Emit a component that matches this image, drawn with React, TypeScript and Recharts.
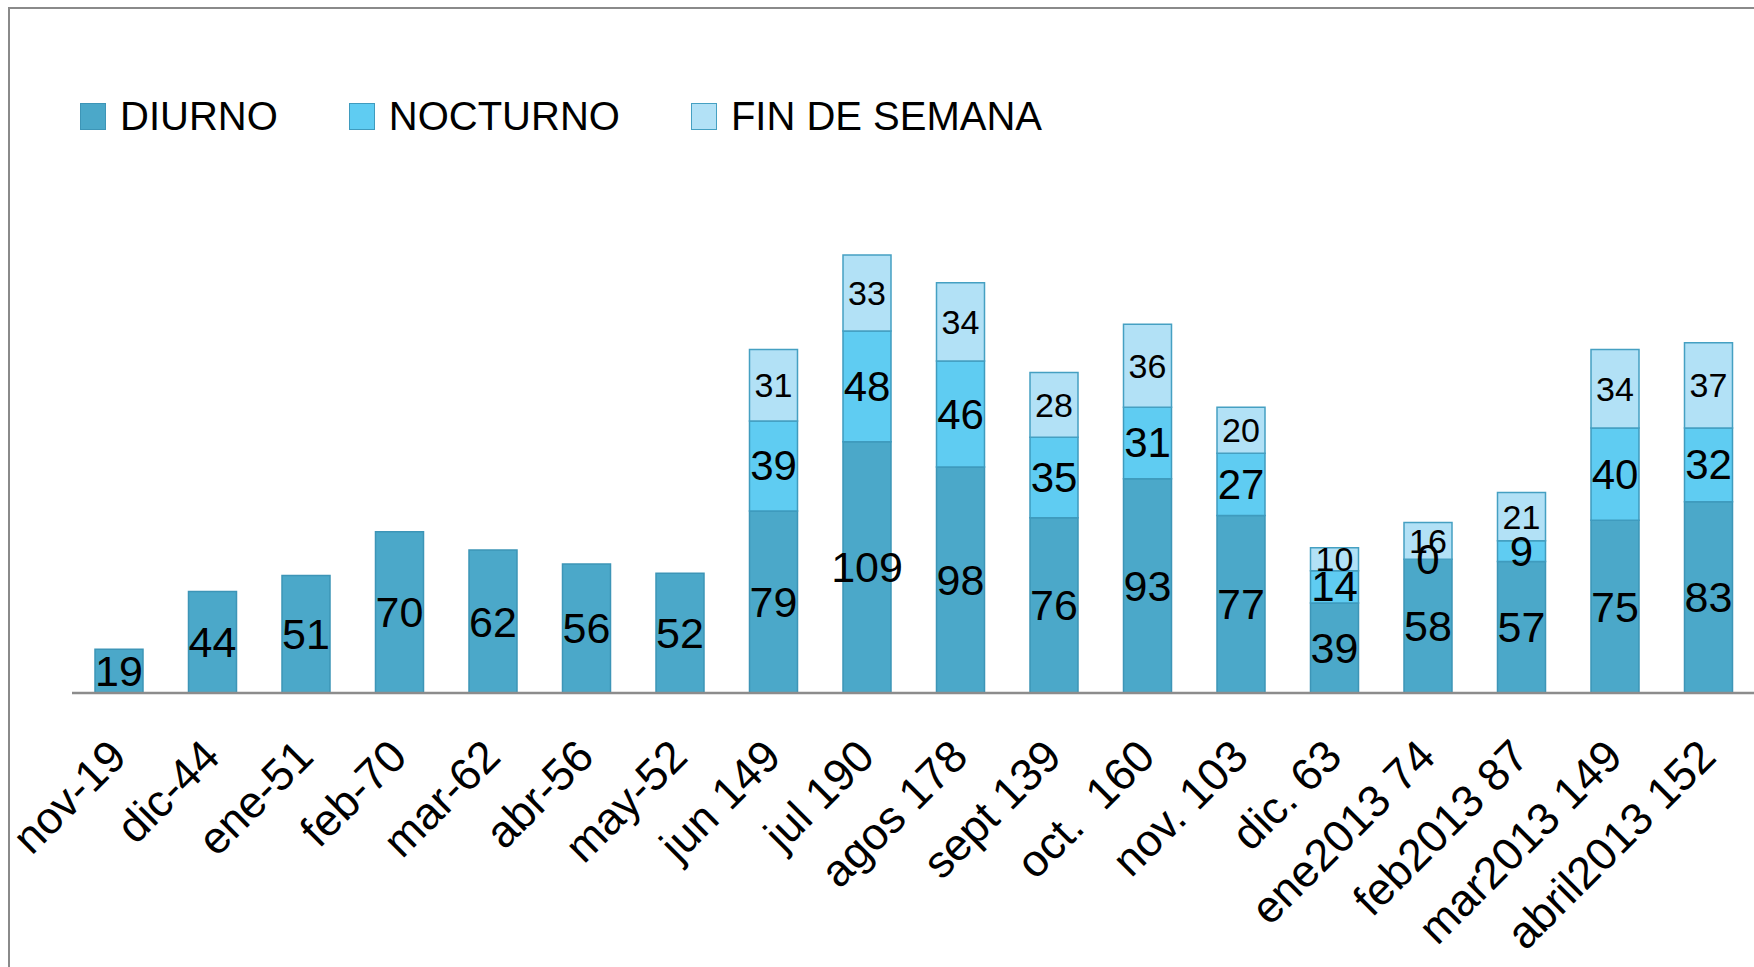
import React from "react";
import { BarChart, Bar, XAxis, YAxis, LabelList, Legend } from "recharts";

const categories = [
  "nov-19", "dic-44", "ene-51", "feb-70", "mar-62", "abr-56", "may-52",
  "jun 149", "jul 190", "agos 178", "sept 139", "oct.\u00a0\u00a0160", "nov. 103",
  "dic. 63", "ene2013 74", "feb2013 87", "mar2013 149", "abril2013 152",
];
const diurno = [19, 44, 51, 70, 62, 56, 52, 79, 109, 98, 76, 93, 77, 39, 58, 57, 75, 83];
const nocturno = [null, null, null, null, null, null, null, 39, 48, 46, 35, 31, 27, 14, 0, 9, 40, 32];
const finDeSemana = [null, null, null, null, null, null, null, 31, 33, 34, 28, 36, 20, 10, 16, 21, 34, 37];

const seriesNames = ["DIURNO", "NOCTURNO", "FIN DE SEMANA"];
const seriesFills = ["#4BA8C9", "#5FCCF2", "#B2E1F6"];
const seriesStrokes = ["#3D95B7", "#3F9BBE", "#45A0C2"];

const data = categories.map((c, i) => ({
  name: c,
  diurno: diurno[i],
  nocturno: nocturno[i],
  fin: finDeSemana[i],
}));

const FONT = "'Liberation Sans', Arial, sans-serif";

const Tick = (props: any) => {
  const { x, y, payload } = props;
  return (
    <g transform={`translate(${x + 10},${y + 66})`}>
      <text
        x={0}
        y={0}
        textAnchor="end"
        transform="rotate(-45)"
        fontSize={45}
        fontFamily={FONT}
        fill="#000"
      >
        {payload.value}
      </text>
    </g>
  );
};

const LegendContent = (props: any) => {
  const payload = [...(props.payload || [])].sort(
    (a: any, b: any) => seriesNames.indexOf(a.value) - seriesNames.indexOf(b.value)
  );
  return (
    <div style={{ display: "flex", alignItems: "center", height: 40 }}>
      {payload.map((p: any, i: number) => (
        <div key={i} style={{ display: "flex", alignItems: "center", marginRight: 71 }}>
          <div
            style={{
              width: 24,
              height: 25,
              background: seriesFills[seriesNames.indexOf(p.value)],
              border: `1.5px solid ${seriesStrokes[seriesNames.indexOf(p.value)]}`,
              marginRight: 14,
            }}
          />
          <span style={{ fontFamily: FONT, fontSize: 40, lineHeight: "40px", color: "#000", whiteSpace: "pre" }}>
            {p.value}
          </span>
        </div>
      ))}
    </div>
  );
};

const makeLabel = (fontSize: number) => (props: any) => {
  const { x, y, width, height, value } = props;
  if (value === null || value === undefined) return null;
  return (
    <text
      x={Number(x) + Number(width) / 2}
      y={Number(y) + Number(height) / 2}
      textAnchor="middle"
      dominantBaseline="central"
      fontSize={fontSize}
      fontFamily={FONT}
      fill="#000"
    >
      {String(value)}
    </text>
  );
};

// zero-height NOCTURNO segments are not drawn by the library; show their "0" label
// at the top edge of the DIURNO segment, where the empty segment sits.
const zeroLabel = (props: any) => {
  const { x, y, width, value } = props;
  if (value !== 0) return null;
  return (
    <text
      x={Number(x) + Number(width) / 2}
      y={Number(y)}
      textAnchor="middle"
      dominantBaseline="central"
      fontSize={42}
      fontFamily={FONT}
      fill="#000"
    >
      {String(value)}
    </text>
  );
};

export default function App() {
  return (
    <div style={{ position: "absolute", left: 0, top: 0, width: 1754, height: 967, overflow: "hidden", background: "#fff" }}>
      <div
        style={{
          position: "absolute",
          left: 8,
          top: 7,
          width: 1800,
          height: 1000,
          borderTop: "2px solid #8A8A8A",
          borderLeft: "2px solid #8A8A8A",
        }}
      />
      <div style={{ position: "absolute", left: 0, top: 0 }}>
        <BarChart
          width={1755}
          height={967}
          data={data}
          margin={{ top: 232, right: 0, left: 72, bottom: 0 }}
        >
          <XAxis
            dataKey="name"
            height={274}
            interval={0}
            tickLine={false}
            tickSize={0}
            tickMargin={0}
            axisLine={{ stroke: "#8C8C8C", strokeWidth: 2.5 }}
            tick={<Tick />}
          />
          <YAxis hide domain={[0, 200]} />
          <Legend
            verticalAlign="middle"
            layout="horizontal"
            itemSorter={null as any}
            content={<LegendContent />}
            wrapperStyle={{ position: "absolute", top: 96, left: 80, width: 1300, height: 40 }}
          />
          <Bar
            dataKey="diurno"
            name={seriesNames[0]}
            stackId="a"
            fill={seriesFills[0]}
            stroke={seriesStrokes[0]}
            strokeWidth={1.5}
            barSize={48}
            isAnimationActive={false}
          >
            <LabelList dataKey="diurno" content={makeLabel(43)} />
            <LabelList dataKey="nocturno" content={zeroLabel} />
          </Bar>
          <Bar
            dataKey="nocturno"
            name={seriesNames[1]}
            stackId="a"
            fill={seriesFills[1]}
            stroke={seriesStrokes[1]}
            strokeWidth={1.5}
            barSize={48}
            isAnimationActive={false}
          >
            <LabelList dataKey="nocturno" content={makeLabel(42)} />
          </Bar>
          <Bar
            dataKey="fin"
            name={seriesNames[2]}
            stackId="a"
            fill={seriesFills[2]}
            stroke={seriesStrokes[2]}
            strokeWidth={1.5}
            barSize={48}
            isAnimationActive={false}
          >
            <LabelList dataKey="fin" content={makeLabel(34)} />
          </Bar>
        </BarChart>
      </div>
    </div>
  );
}
